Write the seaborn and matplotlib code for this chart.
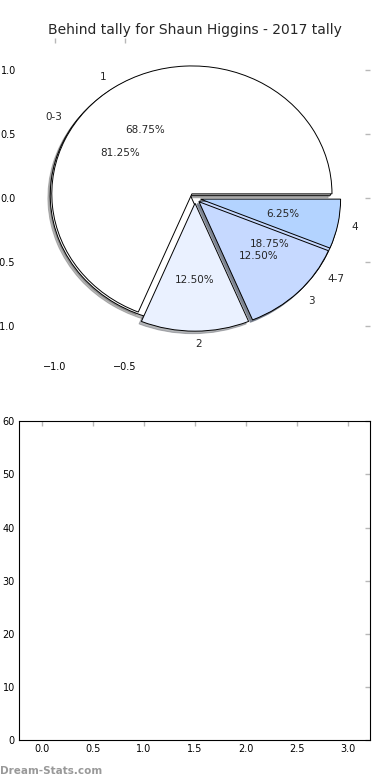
import matplotlib
matplotlib.use("Agg")
import matplotlib.pyplot as plt
import seaborn as sns

# behind tally, per goal margin
detail_labels = ["1", "2", "3", "4"]
detail_counts = [11, 2, 2, 1]
detail_colors = ["#ffffff", "#eaf1ff", "#c6d9ff", "#b3d3ff"]

# grouped margins
group_labels = ["0-3", "4-7"]
group_counts = [13, 3]
group_colors = ["#ffffff", "#c6d9ff"]

title = "Behind tally for Shaun Higgins - 2017 tally"

sns.set_style("white")
plt.rcParams["font.family"] = ["DejaVu Sans"]

fig = plt.figure(figsize=(3.9, 7.8), dpi=100)
ax1 = fig.add_axes([0.051, 0.541, 0.898, 0.410])
ax2 = fig.add_axes([0.049, 0.051, 0.900, 0.409])

text_kw = dict(fontsize=7.5)
wedge_kw = dict(edgecolor="black", linewidth=0.7)
shadow_kw = {"ox": -0.012, "oy": -0.014, "shade": 0.55}

ax1.pie(group_counts, labels=group_labels, colors=group_colors,
        explode=[0.04] * len(group_counts), autopct="%1.2f%%",
        shadow=shadow_kw, textprops=text_kw, wedgeprops=wedge_kw)
ax1.pie(detail_counts, labels=detail_labels, colors=detail_colors,
        explode=[0.04] * len(detail_counts), autopct="%1.2f%%",
        shadow=shadow_kw, textprops=text_kw, wedgeprops=wedge_kw)

ax1.set_aspect("auto")
ax1.set_frame_on(False)
ax1.set_xlim(-1.25, 1.25)
ax1.set_ylim(-1.25, 1.25)
ax1.set_xticks([-1.0, -0.5])
ax1.set_yticks([-1.0, -0.5, 0.0, 0.5, 1.0])
ax1.set_title(title, fontsize=10, pad=3)

ax2.set_xlim(-0.22, 3.22)
ax2.set_ylim(0, 60)
ax2.set_xticks([0.0, 0.5, 1.0, 1.5, 2.0, 2.5, 3.0])
ax2.set_yticks(range(0, 61, 10))
for s in ax2.spines.values():
    s.set_color("black")
    s.set_linewidth(0.8)

for ax in (ax1, ax2):
    ax.tick_params(direction="in", length=3.5, width=1, color="#b8b8b8",
                   labelsize=7, labelcolor="black", top=True, right=True,
                   pad=3)

fig.text(0.0, 0.005, "Dream-Stats.com", fontsize=7.5, color="#999999",
         fontweight="bold", ha="left", va="bottom")

fig.savefig("out.png", dpi=100)
